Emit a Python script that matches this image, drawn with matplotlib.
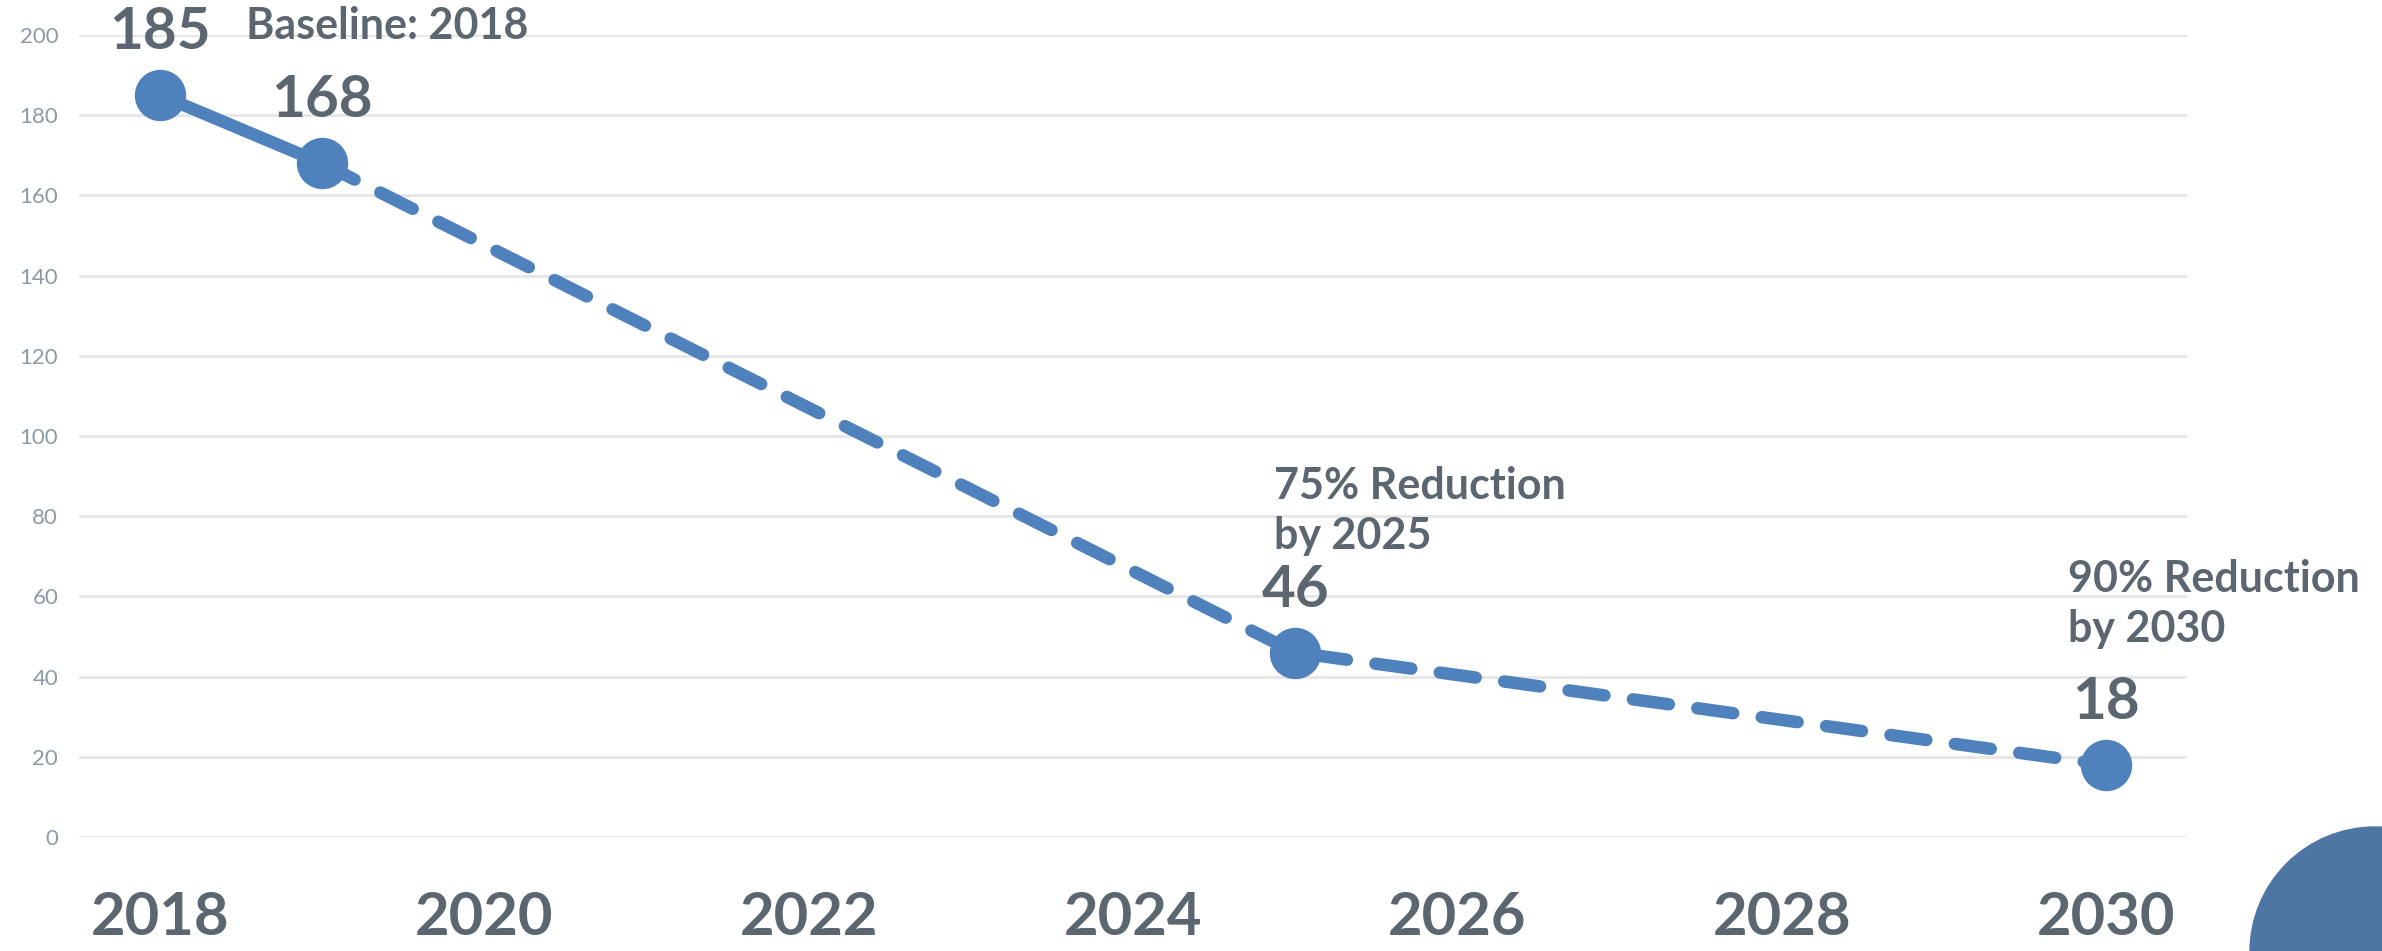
import matplotlib
matplotlib.use("Agg")
import matplotlib.pyplot as plt
from matplotlib.patches import Ellipse

years_solid = [2018, 2019]
values_solid = [185, 168]
years_dashed = [2019, 2025, 2030]
values_dashed = [168, 46, 18]
point_years = [2018, 2019, 2025, 2030]
point_values = [185, 168, 46, 18]
point_labels = ["185", "168", "46", "18"]
x_ticks = [2018, 2020, 2022, 2024, 2026, 2028, 2030]
y_ticks = [0, 20, 40, 60, 80, 100, 120, 140, 160, 180, 200]

plt.rcParams['font.family'] = ['Lato', 'DejaVu Sans']

LINE = "#4f81bd"
TXT = "#5b6670"
TICK = "#8c99a6"
GRID = "#e6e6e6"

fig = plt.figure(figsize=(23.82, 9.51), dpi=100)
ax = fig.add_axes([79/2382, 1 - 837/951, (2187-79)/2382, (837-35)/951])
ax.set_xlim(2017.5, 2030.5)
ax.set_ylim(0, 200)

ax.set_yticks(y_ticks)
ax.set_xticks(x_ticks)
ax.set_xticklabels([str(t) for t in x_ticks])
ax.tick_params(axis='y', length=0, pad=15, labelsize=16, labelcolor=TICK)
ax.tick_params(axis='x', length=0, pad=39, labelsize=43, labelcolor=TXT)
for lab in ax.get_xticklabels():
    lab.set_fontweight('bold')
ax.grid(axis='y', color=GRID, linewidth=2)
ax.set_axisbelow(True)
for s in ax.spines.values():
    s.set_visible(False)

ax.plot(years_solid, values_solid, color=LINE, lw=9, solid_capstyle='round', clip_on=False, zorder=3)
ax.plot(years_dashed, values_dashed, color=LINE, lw=9, dashes=(2.9, 2.3),
        dash_capstyle='round', clip_on=False, zorder=3)
ax.plot(point_years, point_values, 'o', color=LINE, markersize=37, markeredgewidth=0, clip_on=False, zorder=4)

for x, y, lab in zip(point_years, point_values, point_labels):
    ax.annotate(lab, xy=(x, y), xytext=(0, 45), textcoords='offset points',
                ha='center', va='center', fontsize=42, fontweight='bold', color=TXT,
                annotation_clip=False)

ax.annotate("Baseline: 2018", xy=(2018, 185), xytext=(62, 50), textcoords='offset points',
            ha='left', va='center', fontsize=31, fontweight='bold', color=TXT, annotation_clip=False)
ax.annotate("75% Reduction\nby 2025", xy=(2025, 46), xytext=(-15, 102), textcoords='offset points',
            ha='left', va='center', fontsize=31, fontweight='bold', color=TXT,
            linespacing=1.3, annotation_clip=False)
ax.annotate("90% Reduction\nby 2030", xy=(2030, 18), xytext=(-27, 116), textcoords='offset points',
            ha='left', va='center', fontsize=31, fontweight='bold', color=TXT,
            linespacing=1.3, annotation_clip=False)

fig.add_artist(Ellipse((2375/2382, 1 - 952/951), 250/2382, 250/951,
                       transform=fig.transFigure, color="#4e76a3", zorder=0))

fig.savefig("out.png", dpi=100)
